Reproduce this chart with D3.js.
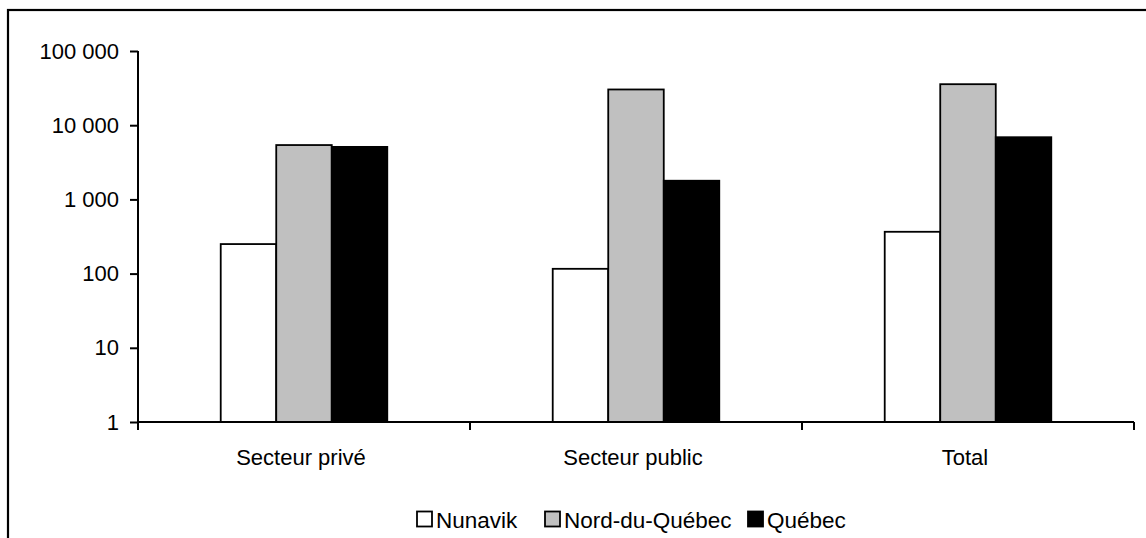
<!DOCTYPE html>
<html>
<head>
<meta charset="utf-8">
<script src="https://cdn.jsdelivr.net/npm/d3@7"></script>
<style>
  html, body { margin: 0; padding: 0; background: #fff; }
  svg { display: block; }
  text { font-family: "Liberation Sans", Arial, sans-serif; fill: #000; }
</style>
</head>
<body>
<svg id="chart" width="1146" height="538"></svg>
<script>
const categories = ["Secteur privé", "Secteur public", "Total"];
const seriesNames = ["Nunavik", "Nord-du-Québec", "Québec"];
const nunavik = [250, 116, 366];
const nordDuQuebec = [5400, 30300, 35700];
const quebec = [5100, 1785, 6885];
const seriesColors = ["#ffffff", "#c0c0c0", "#000000"];
const tickValues = [1, 10, 100, 1000, 10000, 100000];
const tickLabels = ["1", "10", "100", "1 000", "10 000", "100 000"];

const seriesValues = [nunavik, nordDuQuebec, quebec];

const svg = d3.select("#chart");
const fontSize = 22;
const legendFont = 22.5;

// outer frame (extends beyond right/bottom edges)
svg.append("rect")
  .attr("x", 8).attr("y", 10)
  .attr("width", 1300).attr("height", 700)
  .attr("fill", "none").attr("stroke", "#000").attr("stroke-width", 2.2);

const plot = { left: 138, right: 1134, top: 51, bottom: 422 };

const x = d3.scaleBand().domain(categories).range([plot.left, plot.right]).padding(0);
const xInner = d3.scaleBand().domain(seriesNames).range([0, x.bandwidth()])
  .paddingInner(0).paddingOuter(1.49);
const y = d3.scaleLog().domain([1, 100000]).range([plot.bottom, plot.top]);

// bars
const data = [];
categories.forEach((c, ci) => {
  seriesNames.forEach((s, si) => {
    data.push({ cat: c, series: s, value: seriesValues[si][ci], color: seriesColors[si] });
  });
});

svg.append("g").selectAll("rect")
  .data(data).join("rect")
  .attr("x", d => x(d.cat) + xInner(d.series))
  .attr("y", d => y(d.value))
  .attr("width", xInner.bandwidth())
  .attr("height", d => y(1) - y(d.value))
  .attr("fill", d => d.color)
  .attr("stroke", "#000")
  .attr("stroke-width", 1.8);

// y axis
const yAxis = d3.axisLeft(y)
  .tickValues(tickValues)
  .tickFormat((d, i) => tickLabels[i])
  .tickSize(8)
  .tickSizeOuter(0)
  .tickPadding(11);
const gy = svg.append("g").attr("transform", `translate(${plot.left},0)`).call(yAxis);
gy.select(".domain").attr("stroke", "#000").attr("stroke-width", 2)
  .attr("d", `M0,${plot.top}V${plot.bottom + 8}`);
gy.selectAll(".tick line").attr("stroke", "#000").attr("stroke-width", 2);
gy.selectAll(".tick text")
  .style("font-family", '"Liberation Sans", Arial, sans-serif')
  .style("font-size", fontSize + "px").attr("fill", "#000");

// x axis (ticks at category boundaries)
const boundaries = [plot.left, ...categories.map(c => x(c) + x.bandwidth())];
const gx = svg.append("g").attr("transform", `translate(0,${plot.bottom})`);
gx.append("path").attr("d", `M${plot.left},0H${plot.right}`)
  .attr("stroke", "#000").attr("stroke-width", 2).attr("fill", "none");
gx.selectAll("line.tk").data(boundaries).join("line")
  .attr("class", "tk")
  .attr("x1", d => d).attr("x2", d => d)
  .attr("y1", 0).attr("y2", 8)
  .attr("stroke", "#000").attr("stroke-width", 2);
gx.selectAll("text").data(categories).join("text")
  .attr("x", d => x(d) + x.bandwidth() / 2 - 3)
  .attr("y", 43)
  .attr("text-anchor", "middle")
  .style("font-size", fontSize + "px")
  .text(d => d);

// legend
const legend = svg.append("g");
const legendY = 519;
const box = 15;
const legendItems = [
  { name: seriesNames[0], color: seriesColors[0], x: 417 },
  { name: seriesNames[1], color: seriesColors[1], x: 545 },
  { name: seriesNames[2], color: seriesColors[2], x: 748 }
];
legendItems.forEach(it => {
  legend.append("rect")
    .attr("x", it.x).attr("y", legendY - box / 2)
    .attr("width", box).attr("height", box)
    .attr("fill", it.color).attr("stroke", "#000").attr("stroke-width", 1.8);
  legend.append("text")
    .attr("x", it.x + box + 4).attr("y", legendY + 8.5)
    .style("font-size", legendFont + "px")
    .text(it.name);
});
</script>
</body>
</html>
